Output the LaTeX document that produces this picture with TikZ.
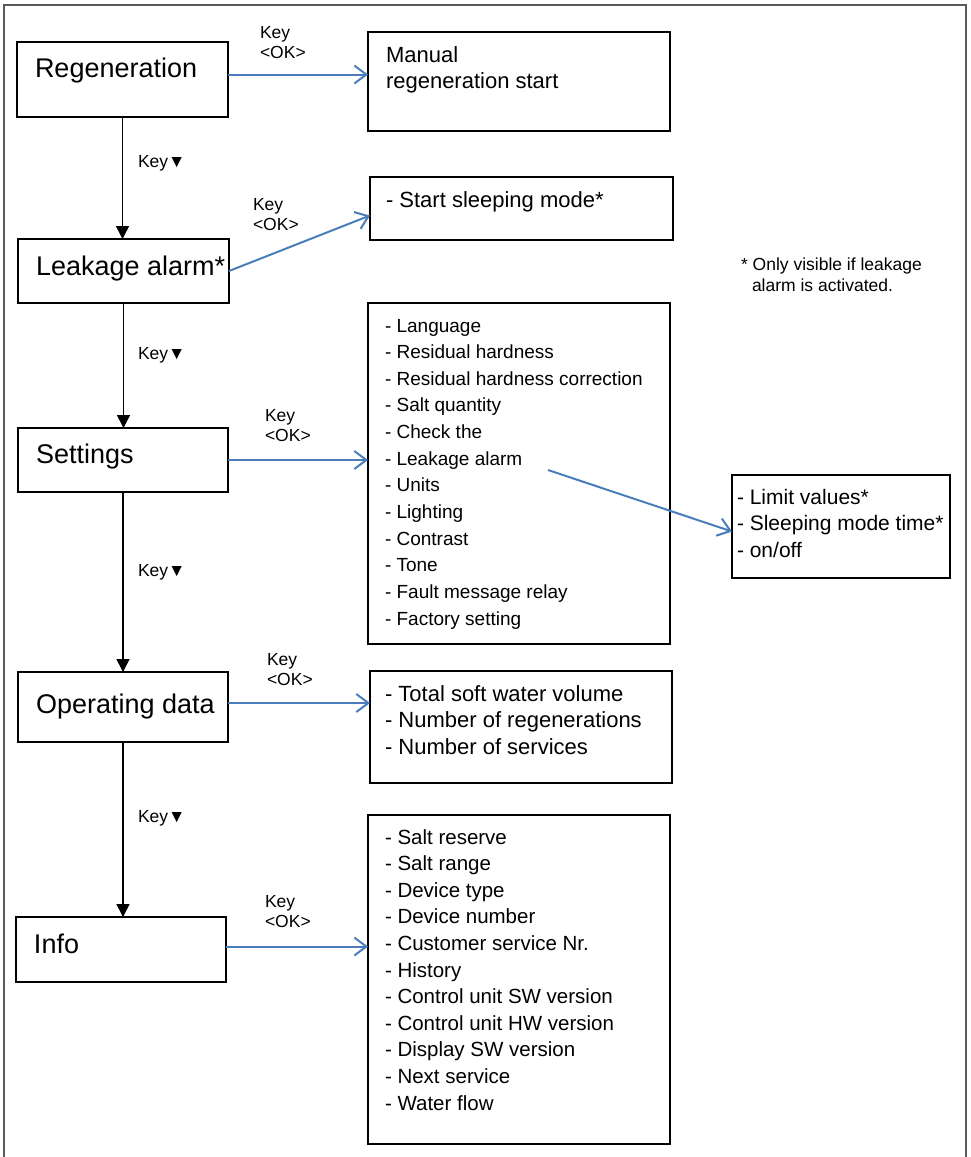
\documentclass[tikz,border=0pt]{standalone}
\usepackage{fontspec}
\setmainfont{Liberation Sans}
\usetikzlibrary{arrows.meta}

\begin{document}
\begin{tikzpicture}[x=1pt,y=-1pt,
  box/.style={draw=black, line width=1.5pt, anchor=north west, inner sep=0, outer sep=0},
  txt/.style={inner sep=0, outer sep=0, anchor=base west, align=left},
  okarrow/.style={draw=custblue, line width=2pt, -{Straight Barb[length=12pt,width=18pt]}},
  keyarrow/.style={line width=1.6pt, -{Triangle[length=13pt,width=13pt]}},
  oklabel/.style={txt, font=\fontsize{17.5}{20.5}\selectfont},
  keylabel/.style={txt, font=\fontsize{17.5}{20}\selectfont},
]
\useasboundingbox (0,0) rectangle (971,1157);
\definecolor{custblue}{RGB}{74, 126, 187}
\definecolor{custgray}{RGB}{90, 90, 90}
% outer frame
\draw [line width=1.2pt, custgray] (4,1160) -- (4,5) -- (966,5) -- (966,1160);
% menu boxes
\node[box, minimum width=211, minimum height=75] (regen) at (17,42) {};
\node[box, minimum width=211, minimum height=64] (leak) at (18,239) {};
\node[box, minimum width=210, minimum height=64] (settings) at (18,428) {};
\node[box, minimum width=210, minimum height=70] (opdata) at (18,672) {};
\node[box, minimum width=210, minimum height=65] (info) at (16,917) {};
\node[txt, font=\fontsize{27}{30}\selectfont] (regentxt) at (35,77) {Regeneration};
\node[txt, font=\fontsize{27}{30}\selectfont] (leaktxt) at (36,275) {Leakage alarm*};
\node[txt, font=\fontsize{27}{30}\selectfont] (settingstxt) at (36,463) {Settings};
\node[txt, font=\fontsize{27}{30}\selectfont] (opdatatxt) at (36,713) {Operating data};
\node[txt, font=\fontsize{27}{30}\selectfont] (infotxt) at (34,953) {Info};
% sub menu boxes
\node[box, minimum width=302, minimum height=99] (manual) at (368,32) {};
\node[box, minimum width=303, minimum height=63] (sleep) at (370,177) {};
\node[box, minimum width=302, minimum height=341] (setlist) at (368,303) {};
\node[box, minimum width=218, minimum height=103] (limit) at (732,475) {};
\node[box, minimum width=302, minimum height=112] (oplist) at (370,671) {};
\node[box, minimum width=302, minimum height=329] (infolist) at (368,815) {};
\node[txt, font=\fontsize{22}{26}\selectfont] (manualtxt) at (386,88) {Manual\\regeneration start};
\node[txt, font=\fontsize{22}{26}\selectfont] (sleeptxt) at (386,207) {- Start sleeping mode*};
\foreach \t [count=\i] in {- Language,- Residual hardness,- Residual hardness correction,- Salt quantity,- Check the,- Leakage alarm,- Units,- Lighting,- Contrast,- Tone,- Fault message relay,- Factory setting}
  \node[txt, font=\fontsize{19}{22}\selectfont] (set\i) at (385,{332+(\i-1)*26.64}) {\t};
\foreach \t [count=\i] in {- Limit values*,- Sleeping mode time*,- on/off}
  \node[txt, font=\fontsize{21}{24}\selectfont] (lim\i) at (737,{504+(\i-1)*26.6}) {\t};
\foreach \t [count=\i] in {- Total soft water volume,- Number of regenerations,- Number of services}
  \node[txt, font=\fontsize{22}{25}\selectfont] (op\i) at (385,{701+(\i-1)*26.6}) {\t};
\foreach \t [count=\i] in {- Salt reserve,- Salt range,- Device type,- Device number,- Customer service Nr.,- History,- Control unit SW version,- Control unit HW version,- Display SW version,- Next service,- Water flow}
  \node[txt, font=\fontsize{20.5}{23}\selectfont] (inf\i) at (385,{844+(\i-1)*26.6}) {\t};
% footnote
\node[txt, font=\fontsize{17.5}{21}\selectfont] (note) at (741,291) {* Only visible if leakage\\\hspace*{11pt}alarm is activated.};
% Key down
\draw[keyarrow] (regen.south) -- (regen.south |- leak.north);
\draw[keyarrow] (leak.south) -- (leak.south |- settings.north);
\draw[keyarrow] (settings.south) -- (settings.south |- opdata.north);
\draw[keyarrow] (opdata.south) -- (opdata.south |- info.north);
\node[keylabel] (kd1) at (138,167) {Key▼};
\node[keylabel] (kd2) at (138,359) {Key▼};
\node[keylabel] (kd3) at (138,576) {Key▼};
\node[keylabel] (kd4) at (138,822) {Key▼};
% Key <OK>
\draw[okarrow] ([yshift=5]regen.east) -- ([yshift=5]regen.east -| manual.west);
\draw[okarrow] (leak.east) -- ([yshift=-7]sleep.west);
\draw[okarrow] (settings.east) -- (settings.east -| setlist.west);
\draw[okarrow] ([yshift=4]opdata.east) -- ([yshift=4]opdata.east -| oplist.west);
\draw[okarrow] ([yshift=3]info.east) -- ([yshift=3]info.east -| infolist.west);
\coordinate (leakfrom) at (548,470);
\draw[okarrow] (leakfrom) -- ([yshift=-5]limit.west);
\node[oklabel] (ok1) at (260,58.5) {Key\\<OK>};
\node[oklabel] (ok2) at (253,230.5) {Key\\<OK>};
\node[oklabel] (ok3) at (265,441.5) {Key\\<OK>};
\node[oklabel] (ok4) at (267,685.5) {Key\\<OK>};
\node[oklabel] (ok5) at (265,927.5) {Key\\<OK>};
\end{tikzpicture}
\end{document}
